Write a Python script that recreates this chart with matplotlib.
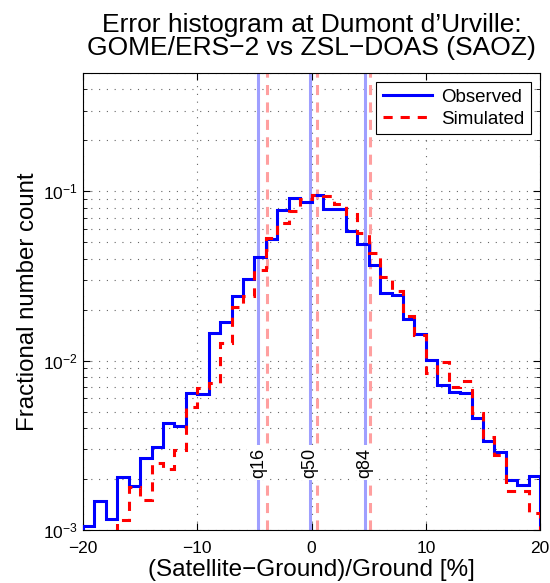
import numpy as np
import matplotlib
matplotlib.use("Agg")
import matplotlib.pyplot as plt
from matplotlib.ticker import LogLocator

plt.rcParams['font.family'] = ['Liberation Sans', 'DejaVu Sans']
plt.rcParams['mathtext.fontset'] = 'custom'
plt.rcParams['mathtext.rm'] = 'Liberation Sans'
plt.rcParams['mathtext.it'] = 'Liberation Sans:italic'
plt.rcParams['axes.unicode_minus'] = True

# ---- data ----
bin_edges = np.arange(-20, 21, 1)
observed = [1.05e-3, 1.49e-3, 1.16e-3, 2.06e-3, 1.82e-3, 2.66e-3, 3.08e-3, 4.26e-3, 4.11e-3, 6.4e-3,
            6.35e-3, 1.46e-2, 1.70e-2, 2.40e-2, 3.03e-2, 4.07e-2, 5.21e-2, 7.8e-2, 9.18e-2, 8.65e-2,
            9.56e-2, 7.9e-2, 7.9e-2, 5.85e-2, 4.91e-2, 3.66e-2, 2.51e-2, 2.43e-2, 1.76e-2, 1.43e-2,
            1.01e-2, 7.17e-3, 6.55e-3, 6.4e-3, 4.6e-3, 3.35e-3, 2.9e-3, 1.97e-3, 1.84e-3, 2.08e-3]
simulated = [0, 0, 0, 1.14e-3, 1.79e-3, 1.50e-3, 2.48e-3, 2.28e-3, 2.97e-3, 5.3e-3,
             6.9e-3, 7.4e-3, 1.27e-2, 2.07e-2, 2.40e-2, 3.42e-2, 5.33e-2, 6.47e-2, 7.7e-2, 8.97e-2,
             9.5e-2, 9.4e-2, 8.45e-2, 7.36e-2, 5.65e-2, 4.33e-2, 3.12e-2, 2.57e-2, 1.83e-2, 1.41e-2,
             8.5e-3, 9.8e-3, 7.0e-3, 7.6e-3, 4.92e-3, 3.55e-3, 2.77e-3, 1.70e-3, 1.71e-3, 1.26e-3]
quantile_names = ['q16', 'q50', 'q84']
quantiles_obs = [-4.65, -0.15, 4.67]
quantiles_sim = [-3.87, 0.47, 5.1]
label_y = 2.5e-3

title = "Error histogram at Dumont d\u2019Urville:\nGOME/ERS\u22122 vs ZSL\u2212DOAS (SAOZ)"
xlabel = "(Satellite\u2212Ground)/Ground [%]"
ylabel = "Fractional number count"

# ---- figure ----
fig = plt.figure(figsize=(5.5, 5.83), dpi=100)
ax = fig.add_axes([0.151, 0.0909, 0.831, 0.7839])
ax.set_yscale('log')
ax.set_xlim(-20, 20)
ax.set_ylim(1e-3, 0.5)

# grid
ax.yaxis.grid(True, which='both', linestyle=(0, (1, 6)), color='0.4', linewidth=0.8)
ax.xaxis.grid(True, which='major', linestyle=(0, (1, 6)), color='0.4', linewidth=0.8)
ax.set_axisbelow(True)

lw = 2.2
blue_light = '#9f9fff'
red_light = '#ff9f9f'
for qo, qs in zip(quantiles_obs, quantiles_sim):
    ax.axvline(qo, color=blue_light, lw=lw, zorder=2)
    ax.axvline(qs, color=red_light, lw=lw, ls=(0, (3.3, 2.4)), zorder=2)

ax.stairs(observed, bin_edges, color='#0000ff', lw=lw, label='Observed', zorder=4, baseline=0)
ax.stairs(simulated, bin_edges, color='#ff0000', lw=lw, ls=(0, (3.0, 2.6)), label='Simulated', zorder=5, baseline=0)

for name, qo in zip(quantile_names, quantiles_obs):
    ax.text(qo, label_y, name, rotation=90, ha='center', va='center', fontsize=13,
            bbox=dict(facecolor='white', edgecolor='none', pad=2), zorder=3)

ax.set_xticks([-20, -10, 0, 10, 20])
ax.yaxis.set_major_locator(LogLocator(base=10, numticks=10))
ax.yaxis.set_minor_locator(LogLocator(base=10, subs=np.arange(2, 10), numticks=10))
ax.tick_params(which='both', direction='in', top=True, right=True, labelsize=12.5)
ax.tick_params(axis='x', pad=8)
ax.tick_params(which='major', length=5, width=0.8)
ax.tick_params(which='minor', length=3, width=0.6)
for s in ax.spines.values():
    s.set_linewidth(0.8)

ax.set_title(title, fontsize=19, linespacing=0.95, pad=13)
ax.set_xlabel(xlabel, fontsize=17.5, labelpad=2)
ax.set_ylabel(ylabel, fontsize=17.3, labelpad=3)

leg = ax.legend(loc='upper right', fontsize=13.5, frameon=True, fancybox=False,
                edgecolor='black', framealpha=1, handlelength=2.6, borderaxespad=0.5,
                borderpad=0.35, labelspacing=0.25, handletextpad=0.5)
leg.get_frame().set_linewidth(0.8)

fig.savefig('out.png', dpi=100)
